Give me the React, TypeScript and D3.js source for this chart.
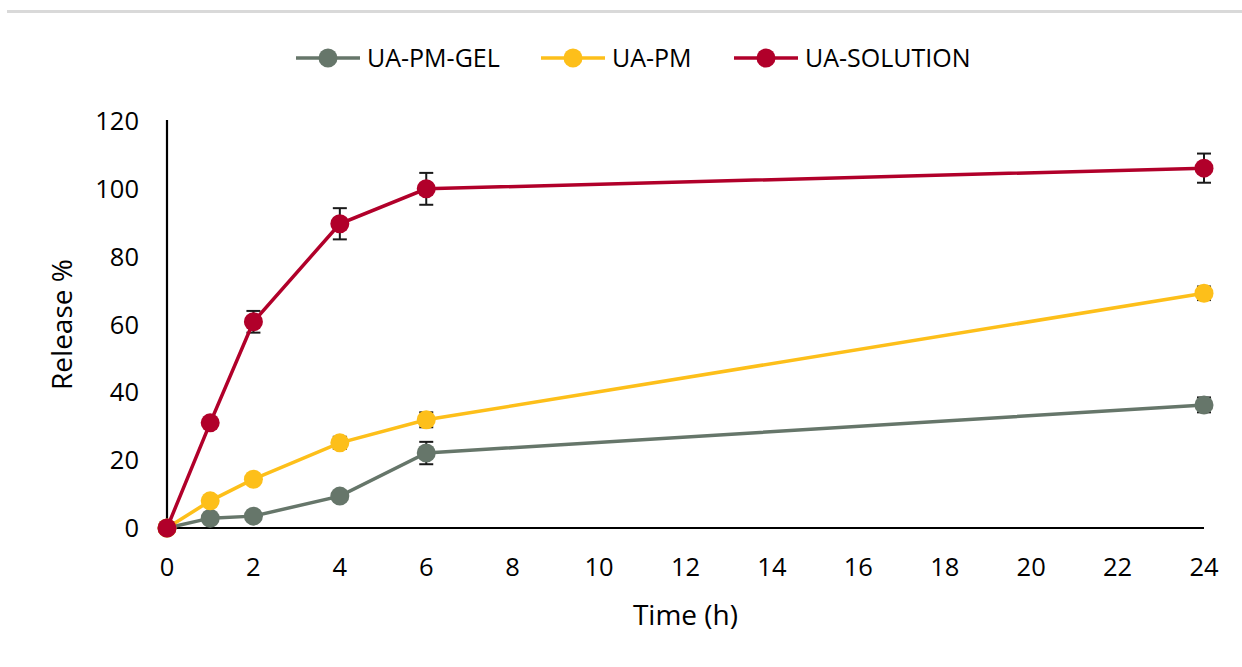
import React from "react";
import * as d3 from "d3";

const timePoints = [0, 1, 2, 4, 6, 24];
const xTicks = [0, 2, 4, 6, 8, 10, 12, 14, 16, 18, 20, 22, 24];
const yTicks = [0, 20, 40, 60, 80, 100, 120];

const seriesNames = ["UA-PM-GEL", "UA-PM", "UA-SOLUTION"];
const seriesColors = ["#66766a", "#fdbf1a", "#b1002a"];
const gelValues = [0, 2.9, 3.5, 9.4, 22.1, 36.3];
const gelErrors = [0, 0.5, 0.5, 1, 3.3, 2.2];
const pmValues = [0, 8.0, 14.4, 25.1, 31.9, 69.2];
const pmErrors = [0, 0.5, 0.8, 1.8, 2.2, 2.0];
const solValues = [0, 31.0, 60.8, 89.7, 100.0, 106.1];
const solErrors = [0, 0.8, 3.2, 4.6, 4.7, 4.3];

const xTitle = "Time (h)";
const yTitle = "Release %";

export default function App() {
  const W = 1242;
  const H = 667;
  const x = d3.scaleLinear().domain([0, 24]).range([167, 1204]);
  const y = d3.scaleLinear().domain([0, 120]).range([528, 121]);
  const font = "'Open Sans', 'Noto Sans', sans-serif";

  const series = [
    { name: seriesNames[0], color: seriesColors[0], values: gelValues, errors: gelErrors },
    { name: seriesNames[1], color: seriesColors[1], values: pmValues, errors: pmErrors },
    { name: seriesNames[2], color: seriesColors[2], values: solValues, errors: solErrors },
  ];

  const line = d3
    .line<number>()
    .x((_, i) => x(timePoints[i]))
    .y((d) => y(d));

  const legendX = [296, 541, 734];
  const legendY = 58;

  return (
    <div style={{ position: "absolute", left: 0, top: 0 }}>
      <svg width={W} height={H} style={{ display: "block", background: "#fff" }}>
        <rect x={7} y={10} width={W - 7} height={3} fill="#d9d9d9" />

        {/* Legend */}
        {series.map((s, i) => (
          <g key={s.name}>
            <line x1={legendX[i]} x2={legendX[i] + 64} y1={legendY} y2={legendY} stroke={s.color} strokeWidth={3.5} />
            <circle cx={legendX[i] + 32} cy={legendY} r={9.5} fill={s.color} />
            <text x={legendX[i] + 71} y={legendY + 9} fontFamily={font} fontSize={25} fill="#000">
              {s.name}
            </text>
          </g>
        ))}

        {/* Axes */}
        <line x1={x(0)} x2={x(0)} y1={y(120) - 1} y2={y(0)} stroke="#000" strokeWidth={2.2} />
        <line x1={x(0)} x2={x(24)} y1={y(0)} y2={y(0)} stroke="#000" strokeWidth={2.2} />

        {yTicks.map((t) => (
          <text key={"y" + t} x={139} y={y(t) + 9} textAnchor="end" fontFamily={font} fontSize={25.5} fill="#000">
            {t}
          </text>
        ))}
        {xTicks.map((t) => (
          <text key={"x" + t} x={x(t)} y={576} textAnchor="middle" fontFamily={font} fontSize={25.5} fill="#000">
            {t}
          </text>
        ))}

        <text x={(x(0) + x(24)) / 2} y={625} textAnchor="middle" fontFamily={font} fontSize={28} fill="#000">
          {xTitle}
        </text>
        <text
          transform={`translate(72, ${y(60)}) rotate(-90)`}
          textAnchor="middle"
          fontFamily={font}
          fontSize={28}
          fill="#000"
        >
          {yTitle}
        </text>

        {/* Series */}
        {series.map((s) => (
          <g key={s.name + "-data"}>
            {s.values.map((v, i) =>
              s.errors[i] > 0 ? (
                <g key={i} stroke="#1a1a1a" strokeWidth={2}>
                  <line x1={x(timePoints[i])} x2={x(timePoints[i])} y1={y(v - s.errors[i])} y2={y(v + s.errors[i])} />
                  <line x1={x(timePoints[i]) - 7} x2={x(timePoints[i]) + 7} y1={y(v - s.errors[i])} y2={y(v - s.errors[i])} />
                  <line x1={x(timePoints[i]) - 7} x2={x(timePoints[i]) + 7} y1={y(v + s.errors[i])} y2={y(v + s.errors[i])} />
                </g>
              ) : null
            )}
            <path d={line(s.values) || ""} fill="none" stroke={s.color} strokeWidth={3.5} />
            {s.values.map((v, i) => (
              <circle key={i} cx={x(timePoints[i])} cy={y(v)} r={9.5} fill={s.color} />
            ))}
          </g>
        ))}
      </svg>
    </div>
  );
}
